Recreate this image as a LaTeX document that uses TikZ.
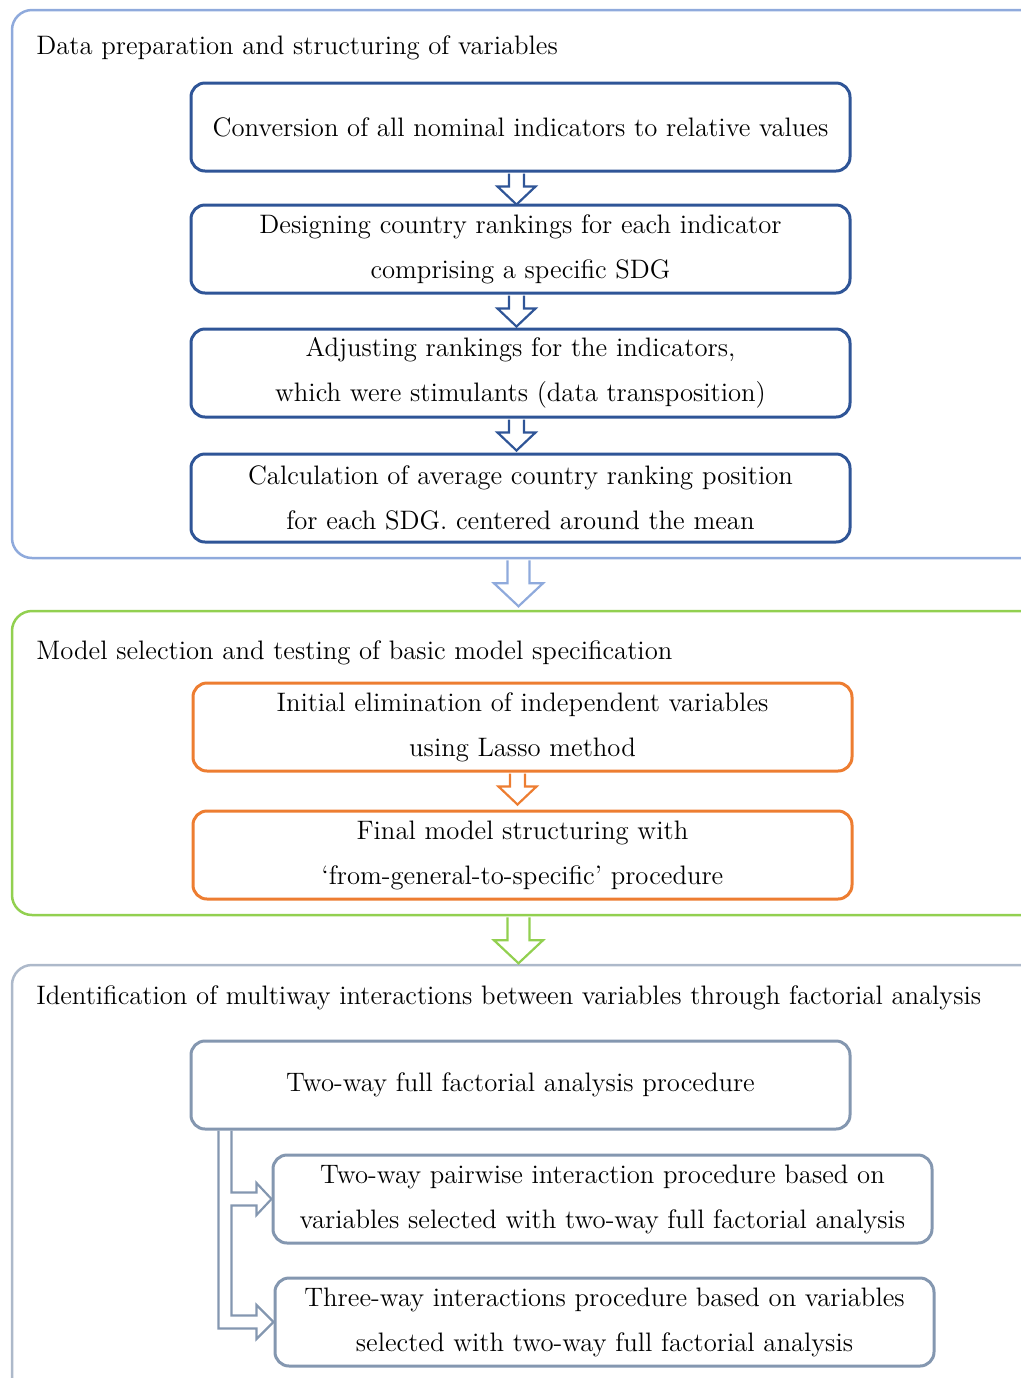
\documentclass[tikz,border=0pt]{standalone}
\usetikzlibrary{calc}
\definecolor{fblue}{HTML}{8FAADC}
\definecolor{dblue}{HTML}{2F5597}
\definecolor{fgreen}{HTML}{92D050}
\definecolor{orng}{HTML}{ED7D31}
\definecolor{fgrey}{HTML}{ADB9CA}
\definecolor{gblue}{HTML}{8497B0}
\begin{document}
\begin{tikzpicture}[x=0.5pt,y=-0.5pt,
  every node/.style={font=\fontsize{13.35}{22.5}\selectfont, inner sep=0pt},
  frame/.style={draw, line width=1.25pt, rounded corners=10pt, minimum width=516.5pt},
  box/.style={draw, line width=1.5pt, rounded corners=7pt, minimum width=329.5pt, minimum height=44pt, align=center},
  title/.style={anchor=base west},
  darr/.pic={\draw[pic actions] (-7.5,0) -- (-7.5,13) -- (-19,13) -- (0,31) -- (19,13) -- (7.5,13) -- (7.5,0);},
  barr/.pic={\draw[pic actions] (-11,0) -- (-11,23) -- (-24.5,23) -- (0,46) -- (24.5,23) -- (11,23) -- (11,0);}
]
\useasboundingbox (0,0) rectangle (1021,1378);
\clip (0,0) rectangle (1021,1378);

% frames
\node[frame, draw=fblue, minimum height=274pt] (f1) at (528.5,284) {};
\node[frame, draw=fgreen, minimum height=152pt] (f2) at (528.5,763) {};
\node[frame, draw=fgrey, minimum height=217.5pt] (f3) at (528.5,1182.5) {};

\node[title] (t1) at (36,54) {Data preparation and structuring of variables};
\node[title] (t2) at (36,659) {Model selection and testing of basic model specification};
\node[title] (t3) at (36,1004) {Identification of multiway interactions between variables through factorial analysis};

% boxes
\node[box, draw=dblue] (b1) at (520.5,127) {Conversion of all nominal indicators to relative values};
\node[box, draw=dblue] (b2) at (520.5,249) {Designing country rankings for each indicator\\comprising a specific SDG};
\node[box, draw=dblue] (b3) at (520.5,373) {Adjusting rankings for the indicators,\\which were stimulants (data transposition)};
\node[box, draw=dblue] (b4) at (520.5,498) {Calculation of average country ranking position\\for each SDG. centered around the mean};

\node[box, draw=orng] (b5) at (522.5,727) {Initial elimination of independent variables\\using Lasso method};
\node[box, draw=orng] (b6) at (522.5,855) {Final model structuring with\\`from-general-to-specific' procedure};

\node[box, draw=gblue] (b7) at (520.5,1085) {Two-way full factorial analysis procedure};
\node[box, draw=gblue] (b8) at (602.5,1199) {Two-way pairwise interaction procedure based on\\variables selected with two-way full factorial analysis};
\node[box, draw=gblue] (b9) at (604.5,1322) {Three-way interactions procedure based on variables\\selected with two-way full factorial analysis};

% arrows inside frames
\pic[draw=dblue, line width=1.1pt] at ($(b1.south)+(-4,1)$) {darr};
\pic[draw=dblue, line width=1.1pt] at ($(b2.south)+(-4,1)$) {darr};
\pic[draw=dblue, line width=1.1pt] at ($(b3.south)+(-4,1)$) {darr};
\pic[draw=orng, line width=1.1pt] at ($(b5.south)+(-5,1)$) {darr};

% arrows between frames
\pic[draw=fblue, line width=1.1pt] at ($(b4.south |- f1.south)+(-2,1)$) {barr};
\pic[draw=fgreen, line width=1.1pt] at ($(b6.south |- f2.south)+(-4,1)$) {barr};

% branching connector
\coordinate (L) at ($(b7.south west)+(29,0)$);
\coordinate (R) at ($(b7.south west)+(42,0)$);
\coordinate (a8u) at ($(b8.west)+(-15,-6.5)$);
\coordinate (a8U) at ($(b8.west)+(-15,-16)$);
\coordinate (a8D) at ($(b8.west)+(-15,16)$);
\coordinate (a8d) at ($(b8.west)+(-15,6.5)$);
\coordinate (a9u) at ($(b9.west)+(-17,-6.5)$);
\coordinate (a9U) at ($(b9.west)+(-17,-17)$);
\coordinate (a9D) at ($(b9.west)+(-17,17)$);
\coordinate (a9d) at ($(b9.west)+(-17,6.5)$);
\draw[gblue, line width=1.1pt]
  (R) -- (R |- a8u) -- (a8u) -- (a8U) -- (b8.west) -- (a8D) -- (a8d) -- (R |- a8d)
  -- (R |- a9u) -- (a9u) -- (a9U) -- (b9.west) -- (a9D) -- (a9d) -- (L |- a9d) -- (L);
\end{tikzpicture}
\end{document}
